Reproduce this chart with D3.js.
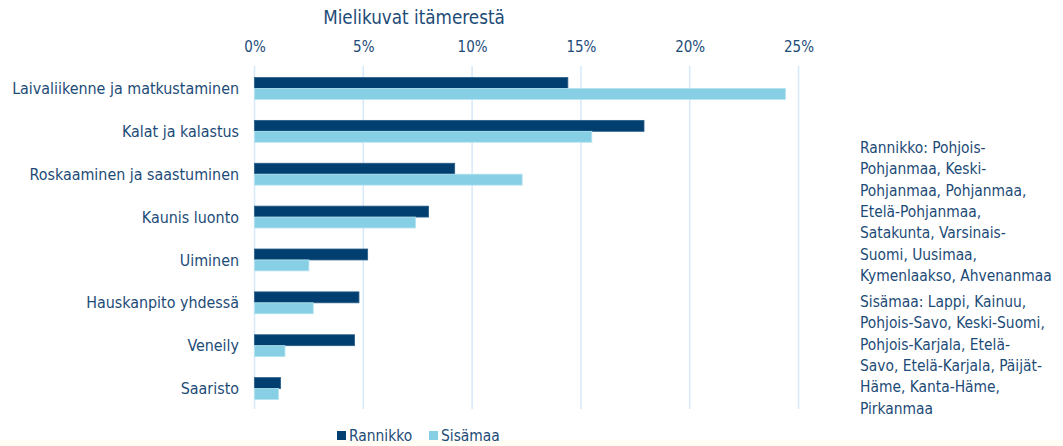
<!DOCTYPE html>
<html><head><meta charset="utf-8">
<script src="https://cdn.jsdelivr.net/npm/d3@7"></script>
<style>
html,body{margin:0;padding:0;background:#fff;}
svg{display:block;}
text{font-family:"DejaVu Sans Condensed","DejaVu Sans",sans-serif;}
</style></head>
<body><svg id="c" width="1063" height="446"></svg>
<script>
const categories = ["Laivaliikenne ja matkustaminen","Kalat ja kalastus","Roskaaminen ja saastuminen","Kaunis luonto","Uiminen","Hauskanpito yhdessä","Veneily","Saaristo"];
const seriesNames = ["Rannikko","Sisämaa"];
const rannikko = [14.4, 17.9, 9.2, 8.0, 5.2, 4.8, 4.6, 1.2];
const sisamaa = [24.4, 15.5, 12.3, 7.4, 2.5, 2.7, 1.4, 1.1];
const xTicks = [0,5,10,15,20,25];
const title = "Mielikuvat itämerestä";
const noteRannikko = ["Rannikko: Pohjois-","Pohjanmaa, Keski-","Pohjanmaa, Pohjanmaa,","Etelä-Pohjanmaa,","Satakunta, Varsinais-","Suomi, Uusimaa,","Kymenlaakso, Ahvenanmaa"];
const noteSisamaa = ["Sisämaa: Lappi, Kainuu,","Pohjois-Savo, Keski-Suomi,","Pohjois-Karjala, Etelä-","Savo, Etelä-Karjala, Päijät-","Häme, Kanta-Häme,","Pirkanmaa"];

const colors = ["#003f6f","#87cfe5"];
const strokes = ["#2a5f8a","#b5e3f0"];
const textColor = "#1d4b77";
const svg = d3.select("#c");

svg.append("rect").attr("x",0).attr("y",440).attr("width",1063).attr("height",6).attr("fill","#fffdf4");

const x = d3.scaleLinear().domain([0,25]).range([254.5,798.5]);
const y = d3.scaleBand().domain(categories).range([67,410]).paddingInner(0.49).paddingOuter(0.245);
const ySub = d3.scaleBand().domain(seriesNames).range([0,y.bandwidth()]);

// gridlines
svg.append("g").selectAll("line").data(xTicks).join("line")
  .attr("x1",d=>x(d)).attr("x2",d=>x(d)).attr("y1",66).attr("y2",409)
  .attr("stroke","#d6e9fb").attr("stroke-width",1.5);

// top axis labels
const ax = svg.append("g").attr("transform","translate(0,52)").call(d3.axisTop(x).tickValues(xTicks).tickFormat(d=>d+"%").tickSize(0).tickPadding(0));
ax.select(".domain").remove();
ax.selectAll("text").attr("fill",textColor).style("font-size","15px").style("font-family",'"DejaVu Sans Condensed",sans-serif');

svg.append("text").attr("x",414).attr("y",24).attr("text-anchor","middle").attr("fill",textColor)
  .style("font-size","18.7px").text(title);

// category labels
svg.append("g").selectAll("text").data(categories).join("text")
  .attr("x",239).attr("y",d=>y(d)+y.bandwidth()/2).attr("dy","0.35em")
  .attr("text-anchor","end").attr("fill",textColor).style("font-size","15.9px").text(d=>d);

// bars
const data = [rannikko, sisamaa];
data.forEach((vals,si)=>{
  svg.append("g").selectAll("rect").data(vals).join("rect")
    .attr("x",x(0)).attr("y",(d,i)=>y(categories[i])+ySub(seriesNames[si]))
    .attr("width",d=>x(d)-x(0)).attr("height",ySub.bandwidth())
    .attr("fill",colors[si]).attr("stroke",strokes[si]).attr("stroke-width",0.8);
});

// legend
const lg = svg.append("g");
const legX = [337,429];
seriesNames.forEach((s,i)=>{
  lg.append("rect").attr("x",legX[i]).attr("y",431).attr("width",9).attr("height",9).attr("fill",colors[i]);
  lg.append("text").attr("x",legX[i]+12).attr("y",441).attr("fill",textColor).style("font-size","15.4px").text(s);
});

// notes
function note(lines, y0){
  const t = svg.append("text").attr("x",860).attr("y",y0).attr("fill",textColor).style("font-size","15.4px");
  lines.forEach((l,i)=>t.append("tspan").attr("x",860).attr("y",y0+i*21.3).text(l));
}
note(noteRannikko,153);
note(noteSisamaa,307);
</script></body></html>
